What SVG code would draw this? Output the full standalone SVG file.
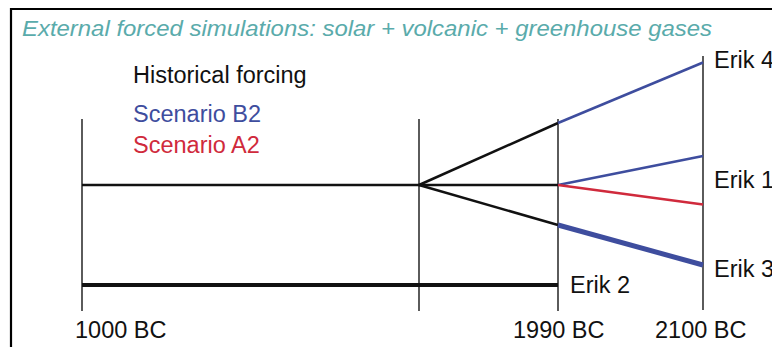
<svg xmlns="http://www.w3.org/2000/svg" width="772" height="347" viewBox="0 0 772 347">
<style>
text{font-family:"Liberation Sans",Arial,sans-serif;font-size:23.5px;fill:#111}
.title{font-style:italic;fill:#5aabab;font-size:22.5px}
.axis{stroke:#333;stroke-width:1.6;fill:none}
.blk{stroke:#111;stroke-width:2.5;fill:none}
.blue{stroke:#3e4d9e;stroke-width:2.5;fill:none}
.red{stroke:#d02a3c;stroke-width:2.5;fill:none}
.thick{stroke-width:4}
.thickb{stroke-width:5}
</style>
<rect width="772" height="347" fill="#fff"/>
<path d="M11 347 V9 H772" stroke="#000" stroke-width="2.2" fill="none"/>
<text class="title" x="22" y="36" textLength="690" lengthAdjust="spacingAndGlyphs">External forced simulations: solar + volcanic + greenhouse gases</text>
<g id="axes">
<line class="axis" x1="82" y1="119" x2="82" y2="311"/>
<line class="axis" x1="419" y1="119" x2="419" y2="311"/>
<line class="axis" x1="558" y1="119" x2="558" y2="311"/>
<line class="axis" x1="703" y1="56" x2="703" y2="310"/>
</g>
<g id="connectors">
<line class="blk" x1="82" y1="185" x2="558" y2="185"/>
<line class="blk thick" x1="82" y1="285" x2="558" y2="285"/>
<line class="blk" x1="419" y1="185" x2="558" y2="123"/>
<line class="blk" x1="419" y1="185" x2="558" y2="225"/>
<line class="blue" x1="558" y1="123" x2="703" y2="62.5"/>
<line class="blue" x1="558" y1="185" x2="703" y2="156"/>
<line class="red" x1="558" y1="185" x2="703" y2="204.5"/>
<line class="blue thickb" x1="558" y1="225" x2="703" y2="265"/>
</g>
<g id="legend">
<text x="133" y="83">Historical forcing</text>
<text x="133" y="121.5" style="fill:#3e4d9e">Scenario B2</text>
<text x="133" y="153" style="fill:#d02a3c">Scenario A2</text>
</g>
<g id="labels">
<text x="714" y="68">Erik 4</text>
<text x="714" y="188">Erik 1</text>
<text x="714" y="277">Erik 3</text>
<text x="570" y="293">Erik 2</text>
<text x="75" y="338">1000 BC</text>
<text x="513" y="338">1990 BC</text>
<text x="655" y="338">2100 BC</text>
</g>
</svg>
